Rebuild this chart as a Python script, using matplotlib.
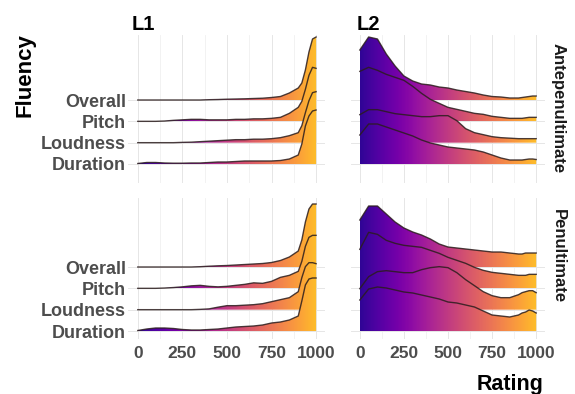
import numpy as np
import matplotlib
matplotlib.use("Agg")
import matplotlib.pyplot as plt
from matplotlib.patches import Polygon
from matplotlib.colors import LinearSegmentedColormap

plt.rcParams['font.family'] = ['Liberation Sans', 'DejaVu Sans']

## rating grid the ridge heights were read at
rating = [0, 50, 100, 150, 200, 250, 300, 350, 400, 450, 500, 550, 600, 650,
          700, 750, 800, 850, 900, 920, 940, 960, 980, 1000]
fluency = ["Duration", "Loudness", "Pitch", "Overall"]
rating_ticks = [0, 250, 500, 750, 1000]
languages = ["L1", "L2"]
positions = ["Antepenultimate", "Penultimate"]

## ridge heights (px above each baseline)
l1_ante = {
  "Overall":  [0, 0, 0, 0, 0, 0, 0, 0, 0.3, 0.5, 0.8, 1, 1.2, 1.5, 1.8, 2.5, 3.5, 7, 12, 17, 30, 48, 61, 63],
  "Pitch":    [0, 0, 0, 0.3, 1, 1.5, 2, 2, 1.5, 1.5, 1.5, 2, 2, 2.5, 2.5, 3, 4, 8, 14, 20, 32, 46, 54, 53],
  "Loudness": [0, 0, 0, 0, 0, 0.3, 0.5, 1, 1.5, 2, 2.5, 3, 3, 3.5, 3.5, 4, 5, 7, 10, 17, 30, 42, 50, 51],
  "Duration": [0.5, 1.5, 1.5, 1, 0.8, 0.8, 1, 1, 1.5, 2, 2, 2.5, 3, 3, 3, 3, 3.5, 5, 9, 20, 38, 48, 53, 54],
}
l1_pen = {
  "Overall":  [0, 0, 0, 0, 0, 0, 0, 0.3, 0.8, 1.2, 1.5, 2, 2.5, 3, 3.5, 4.5, 6.5, 10, 16, 27, 45, 58, 63, 63],
  "Pitch":    [0, 0, 0, 0.3, 0.8, 1.5, 2.5, 3, 2, 1.5, 2, 3, 4, 5.5, 5, 7, 11, 13, 17, 27, 42, 51, 53, 53],
  "Loudness": [0, 0, 0, 0, 0, 0, 0, 0.3, 0.8, 2.5, 4, 4, 4.5, 5, 6, 8, 10, 12, 18, 32, 43, 47, 47, 46],
  "Duration": [0.5, 2, 3, 3, 2.5, 1.5, 1, 1, 1.5, 2, 3, 4, 4.5, 5, 6, 8, 9, 11, 15, 30, 46, 52, 53, 53],
}
l2_ante = {
  "Overall":  [50, 63, 61, 46, 34, 24, 19, 16, 15, 13, 12, 10, 8.5, 7, 5, 3.5, 3, 2, 2, 2.5, 3, 3.5, 4, 4],
  "Pitch":    [50, 54, 51, 47, 44, 41, 35, 28, 22, 18, 14, 12, 10, 8, 7, 5, 4, 3, 3, 3, 3.5, 4, 4, 4],
  "Loudness": [28, 33, 33, 31, 29, 28, 27, 26, 26, 27, 27, 22, 14, 10, 8, 6, 5, 4.5, 4, 4, 4, 4, 4, 4],
  "Duration": [29, 40, 40, 37, 34, 31, 28, 24, 21, 19, 17, 16, 15, 14, 12, 9, 6, 4, 4, 4, 4.5, 5, 5, 4.5],
}
l2_pen = {
  "Overall":  [47, 61, 61, 53, 45, 39, 35, 32, 28, 23, 20, 19, 18, 17, 16, 15, 15, 14, 13, 13, 14, 14, 14, 14],
  "Pitch":    [39, 56, 54, 48, 45, 43, 42, 41, 38, 35, 31, 28, 25, 21, 18, 16, 15, 14, 13, 13, 13, 14, 14, 14],
  "Loudness": [21, 33, 38, 39, 38, 37, 37, 40, 42, 43, 42, 37, 30, 24, 18, 14, 12, 12, 15, 17, 18, 19, 19, 17],
  "Duration": [31, 42, 44, 43, 41, 39, 38, 36, 34, 32, 29, 28, 26, 24, 20, 16, 15, 14, 16, 18, 19, 21, 20, 18],
}

row_px = 21.33   ## pixels between two ridge baselines
plasma = plt.get_cmap('plasma')
cmap = LinearSegmentedColormap.from_list('plasma_cut', plasma(np.linspace(0.06, 0.86, 256)))
grad = np.linspace(0, 1, 256).reshape(1, -1)
grey = '#4d4d4d'


#### FUNCTION: draws one gradient filled ridge
def drawRidge(ax, heights, base, z):
  x = np.array(rating, dtype=float)
  y = base + np.array(heights) / row_px
  verts = [(x[0], base)] + list(zip(x, y)) + [(x[-1], base)]
  poly = Polygon(verts, closed=True, facecolor='none', edgecolor='none')
  ax.add_patch(poly)
  im = ax.imshow(grad, extent=[0, 1000, base, y.max()], aspect='auto', cmap=cmap,
                 origin='lower', interpolation='bilinear', zorder=z)
  im.set_clip_path(poly)
  ax.plot(x, y, color='#2b1d1d', lw=1.0, alpha=0.85, zorder=z + 0.5,
          solid_joinstyle='round')


#### FUNCTION: one facet panel
def drawPanel(rect, data, ylim, left, bottom, xlim):
  ax = fig.add_axes(rect)
  for i, name in enumerate(reversed(fluency)):
    drawRidge(ax, data[name], 4 - i, 2 + i)

  ax.set_xlim(*xlim)
  ax.set_ylim(*ylim)
  ax.set_xticks(rating_ticks)
  ax.set_xticks([125, 375, 625, 875], minor=True)
  ax.set_yticks([1, 2, 3, 4])
  ax.grid(True, which='major', color='#e6e6e6', lw=0.7, zorder=0)
  ax.grid(True, which='minor', axis='x', color='#f0f0f0', lw=0.6, zorder=0)
  ax.set_axisbelow(True)
  for s in ax.spines.values():
    s.set_visible(False)
  ax.tick_params(which='both', length=0)
  ax.tick_params(axis='y', pad=1.5)
  ax.tick_params(axis='x', pad=5)

  if left:
    ax.set_yticklabels(fluency, fontsize=13, fontweight='bold', color=grey)
  else:
    ax.set_yticklabels([])
  if bottom:
    ax.set_xticklabels([str(t) for t in rating_ticks], fontsize=12.5,
                       fontweight='bold', color=grey)
  else:
    ax.set_xticklabels([])
  return ax


W, H = 575, 394
fig = plt.figure(figsize=(W / 100, H / 100), dpi=100)

def rect(l, r, t, b):
  return [l / W, 1 - b / H, (r - l) / W, (b - t) / H]

top_ylim = (1 - (183 - 164) / row_px, 1 + (164 - 35) / row_px)
bot_ylim = (1 - (339 - 331) / row_px, 1 + (331 - 198) / row_px)

drawPanel(rect(128, 325, 35, 183), l1_ante, top_ylim, True, False, (-55, 1050))
drawPanel(rect(351, 545, 35, 183), l2_ante, top_ylim, False, False, (-50, 1050))
drawPanel(rect(128, 325, 198, 339), l1_pen, bot_ylim, True, True, (-55, 1050))
drawPanel(rect(351, 545, 198, 339), l2_pen, bot_ylim, False, True, (-50, 1050))

## strip labels
fig.text(132 / W, 1 - 25 / H, languages[0], fontsize=14.5, fontweight='bold', va='center', ha='left')
fig.text(357 / W, 1 - 25 / H, languages[1], fontsize=14.5, fontweight='bold', va='center', ha='left')
fig.text(558 / W, 1 - 108 / H, positions[0], fontsize=12, fontweight='bold',
         rotation=-90, va='center', ha='center', color='#1a1a1a')
fig.text(558 / W, 1 - 256 / H, positions[1], fontsize=12, fontweight='bold',
         rotation=-90, va='center', ha='center', color='#1a1a1a')

## axis titles
fig.text(25 / W, 1 - 75 / H, 'Fluency', fontsize=16, fontweight='bold',
         rotation=90, va='center', ha='center')
fig.text(543 / W, 1 - 390 / H, 'Rating', fontsize=15.5, fontweight='bold',
         va='baseline', ha='right')

fig.savefig('out.png', dpi=100)
